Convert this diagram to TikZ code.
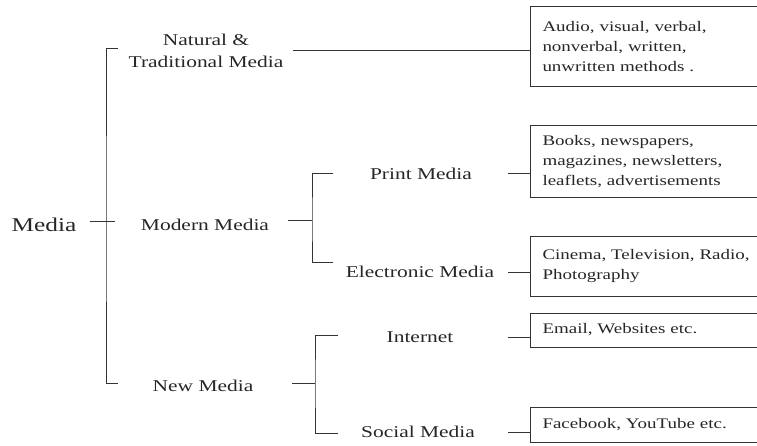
\documentclass[tikz,border=0pt]{standalone}
\usepackage{fontspec}
\setmainfont{Liberation Serif}[FakeStretch=1.3]
\usetikzlibrary{calc}

\begin{document}
\begin{tikzpicture}[x=1pt, y=-1pt,
    root/.style={inner sep=0pt, font=\fontsize{19.5}{24}\selectfont, text=black!85},
    lbl/.style={inner sep=0pt, align=center, font=\fontsize{16.5}{22}\selectfont, text=black!85},
    dsc/.style={draw=black!80, line width=1pt, anchor=west, text width=218pt, inner xsep=12pt, inner ysep=0pt, align=left, font=\fontsize{14.6}{20}\selectfont, text=black!85},
    line/.style={draw=black!80, line width=1pt}
]
    \useasboundingbox (0,0) rectangle (757,446);

    % Root and first level
    \node[root] (media) at (44,225) {Media};
    \node[lbl] (natural) at (206,51) {Natural \&\\Traditional Media};
    \node[lbl] (modern) at (205,225) {Modern Media};
    \node[lbl] (newmedia) at (203,386) {New Media};

    % Second level
    \node[lbl] (print) at (421,174) {Print Media};
    \node[lbl] (electronic) at (420,272) {Electronic Media};
    \node[lbl] (internet) at (420,337) {Internet};
    \node[lbl] (social) at (418,432) {Social Media};

    % Description boxes
    \node[dsc, minimum height=80pt] (methods) at (530,47) {Audio, visual, verbal,\\nonverbal, written,\\unwritten methods .};
    \node[dsc, minimum height=72pt] (printbox) at (530,162) {Books, newspapers,\\magazines, newsletters,\\leaflets, advertisements};
    \node[dsc, minimum height=59pt] (elecbox) at (530,266.5) {Cinema, Television, Radio,\\Photography};
    \node[dsc, minimum height=34pt] (netbox) at (530,330) {Email, Websites etc.};
    \node[dsc, minimum height=35pt] (socbox) at (530,424.5) {Facebook, YouTube etc.};

    % Bracket spines
    \coordinate (sp0) at (106,222);
    \coordinate (sp1) at (312,221);
    \coordinate (sp2) at (315,383);

    % Media bracket
    \draw[line] ($(sp0 |- natural)+(12,-2)$) -| (sp0) |- ($(sp0 |- newmedia)+(12,-3)$);
    \draw[line] ($(sp0)+(-16,0)$) -- ($(sp0)+(9,0)$);

    % Modern Media bracket
    \draw[line] ($(sp1)+(-24,0)$) -- (sp1);
    \draw[line] ($(sp1 |- print)+(21,0)$) -| (sp1) |- ($(sp1 |- electronic)+(21,-10)$);

    % New Media bracket
    \draw[line] ($(sp2)+(-23,0)$) -- (sp2);
    \draw[line] ($(sp2 |- internet)+(23,-2)$) -| (sp2) |- ($(sp2 |- social)+(23,1)$);

    % Links to the boxes
    \draw[line] ($(natural.east)+(9,0)$) -- (natural.east -| methods.west);
    \draw[line] ($(printbox.west |- print)+(-22,0)$) -- (printbox.west |- print);
    \draw[line] ($(elecbox.west |- electronic)+(-22,0)$) -- (elecbox.west |- electronic);
    \draw[line] ($(netbox.west |- internet)+(-22,0)$) -- (netbox.west |- internet);
    \draw[line] ($(socbox.west |- social)+(-22,0)$) -- (socbox.west |- social);

\end{tikzpicture}
\end{document}
